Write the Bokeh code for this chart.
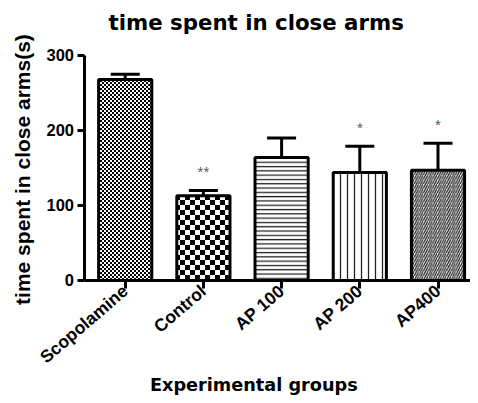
import base64, struct, zlib
from math import pi
from bokeh.plotting import figure
from bokeh.models import (ColumnDataSource, Range1d, FixedTicker, Whisker, TeeHead,
                          ImageURLTexture, Label)
from bokeh.core.properties import value
from bokeh.embed import file_html
from bokeh.resources import INLINE

# ---- data ----
groups = ["Scopolamine", "Control", "AP 100", "AP 200", "AP400"]
means = [268, 113, 164, 144, 147]
sems = [7, 7, 26, 35, 36]
stars = ["", "**", "", "*", "*"]
y_ticks = [0, 100, 200, 300]

FONT = "Liberation Sans"
TFONT = "DejaVu Sans"

# ---- layout (canvas pixels) ----
W, H = 470, 395
FRAME_BOTTOM = 388          # frame fills the canvas; axes are drawn inside it
X0_PX, STEP_PX = 124.7, 78.2  # centre of first group, distance between groups
TOP300, ZERO = 54, 275        # pixel rows of y=300 and y=0
UPP = 300 / (ZERO - TOP300)


def px_to_x(px):
    return (px - X0_PX) / STEP_PX


def px_to_y(py):
    return (ZERO - py) * UPP


def checker_png(cell):
    n = cell * 2
    raw = b""
    for r in range(n):
        row = bytes([0 if ((r // cell) + (c // cell)) % 2 == 0 else 255 for c in range(n)])
        raw += b"\x00" + row

    def chunk(t, d):
        c = struct.pack(">I", len(d)) + t + d
        return c + struct.pack(">I", zlib.crc32(t + d) & 0xffffffff)

    png = b"\x89PNG\r\n\x1a\n"
    png += chunk(b"IHDR", struct.pack(">IIBBBBB", n, n, 8, 0, 0, 0, 0))
    png += chunk(b"IDAT", zlib.compress(raw))
    png += chunk(b"IEND", b"")
    return "data:image/png;base64," + base64.b64encode(png).decode()


xs = list(range(len(groups)))
uppers = [m + s for m, s in zip(means, sems)]
patterns = ["fine", "coarse", "horizontal_line", "vertical_line", "right_diagonal_line"]
scales = [1, 1, 4.3, 7, 4.6]

src = ColumnDataSource(dict(x=xs, top=means, upper=uppers, lower=means,
                            star=stars, pat=patterns, sc=scales))

p = figure(width=W, height=H, output_backend="svg", toolbar_location=None,
           x_range=Range1d(px_to_x(0), px_to_x(W)),
           y_range=Range1d(px_to_y(FRAME_BOTTOM), px_to_y(0)),
           min_border=0)
p.outline_line_color = None
p.xgrid.visible = False
p.ygrid.visible = False
p.background_fill_color = "white"

p.vbar(x="x", top="top", width=0.68, bottom=0, source=src,
       fill_color="white", line_color="black", line_width=3,
       hatch_pattern="pat", hatch_scale="sc", hatch_weight=1.3, hatch_color="#222222",
       hatch_extra={"fine": ImageURLTexture(url=checker_png(2), repetition="repeat"),
                    "coarse": ImageURLTexture(url=checker_png(5), repetition="repeat")})

w = Whisker(base="x", upper="upper", lower="lower", source=src, dimension="height",
            line_width=3, line_color="black",
            upper_head=TeeHead(size=29, line_width=3, line_color="black"),
            lower_head=None)
p.add_layout(w)

p.text(x="x", y="upper", text="star", source=src, y_offset=-19,
       text_align="center", text_baseline="middle", text_font=value(FONT),
       text_font_size="15px", text_color="#555555")

# axes (drawn inside the frame at fixed locations)
for ax in (p.xaxis[0], p.yaxis[0]):
    ax.axis_line_width = 3
    ax.major_tick_line_width = 3
    ax.minor_tick_line_color = None
    ax.major_tick_in = 0
    ax.major_tick_out = 7
    ax.major_label_text_font = FONT
    ax.major_label_text_font_style = "bold"
    ax.major_label_text_font_size = "16.5px"
    ax.major_label_text_color = "black"

y_axis_x = px_to_x(83.5)
p.yaxis.ticker = FixedTicker(ticks=y_ticks)
p.yaxis.fixed_location = y_axis_x
p.yaxis.bounds = (0, 300)
p.yaxis.major_label_standoff = 3

p.xaxis.ticker = FixedTicker(ticks=xs)
p.xaxis.fixed_location = 0
p.xaxis.bounds = (y_axis_x, px_to_x(W))
p.xaxis.major_label_overrides = {i: g for i, g in enumerate(groups)}
p.xaxis.major_label_orientation = 0.71
p.xaxis.major_label_text_font_size = "17.5px"
p.xaxis.major_tick_out = 8
p.xaxis.major_label_standoff = 0

# y axis title
p.add_layout(Label(x=px_to_x(22), y=px_to_y(299), angle=pi / 2,
                   text="time spent in close arms(s)", text_font=FONT,
                   text_font_style="bold", text_font_size="21px",
                   text_color="black", text_align="left",
                   text_baseline="alphabetic"))

# x axis title
p.add_layout(Label(x=px_to_x(149.4), y=px_to_y(378),
                   text="Experimental groups", text_font=TFONT,
                   text_font_style="bold", text_font_size="17.7px",
                   text_color="black", text_align="left",
                   text_baseline="alphabetic"))

# chart title
p.add_layout(Label(x=px_to_x(108), y=px_to_y(22),
                   text="time spent in close arms", text_font=TFONT,
                   text_font_style="bold", text_font_size="21.3px",
                   text_color="black", text_align="left",
                   text_baseline="alphabetic"))

open("out.html", "w").write(file_html(p, INLINE))
